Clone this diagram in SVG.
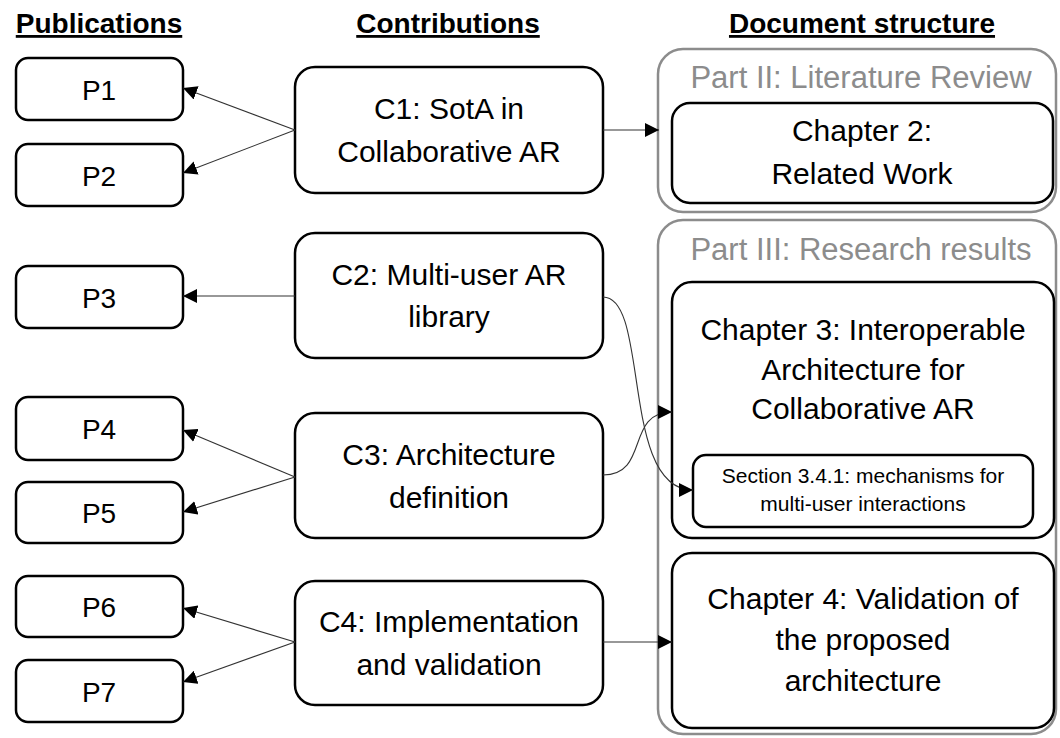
<svg xmlns="http://www.w3.org/2000/svg" width="1060" height="738" viewBox="0 0 1060 738">
<defs>
<style>
text{font-family:"Liberation Sans",Arial,sans-serif;fill:#000;text-anchor:middle}
.hdr{font-size:28px;font-weight:bold;text-decoration:underline}
.box{fill:#fff;stroke:#000;stroke-width:2.5}
.grp{fill:none;stroke:#8c8c8c;stroke-width:2.5}
.pt{font-size:28px}
.nt{font-size:30px}
.gt{font-size:31px;fill:#8c8c8c}
.st{font-size:21px}
.edge{fill:none;stroke:#333;stroke-width:1.1}
</style>
<marker id="arr" viewBox="0 0 10 10" refX="10" refY="5" markerWidth="14" markerHeight="14" markerUnits="userSpaceOnUse" orient="auto">
<path d="M0,0 L10,5 L0,10 z" fill="#000"/>
</marker>
</defs>
<rect width="1060" height="738" fill="#fff"/>
<g id="headers">
<text class="hdr" x="99" y="33">Publications</text>
<text class="hdr" x="448" y="33">Contributions</text>
<text class="hdr" x="862" y="33">Document structure</text>
</g>
<g id="part2">
<rect class="grp" x="658" y="49" width="398" height="163" rx="25"/>
<text class="gt" x="861" y="88">Part II: Literature Review</text>
</g>
<g id="part3">
<rect class="grp" x="658" y="220" width="398" height="514" rx="25"/>
<text class="gt" x="861" y="260">Part III: Research results</text>
</g>
<g id="P1"><rect class="box" x="16" y="58" width="167" height="62" rx="12"/><text class="pt" x="99" y="100">P1</text></g>
<g id="P2"><rect class="box" x="16" y="144" width="167" height="62" rx="12"/><text class="pt" x="99" y="186">P2</text></g>
<g id="P3"><rect class="box" x="16" y="266" width="167" height="62" rx="12"/><text class="pt" x="99" y="308">P3</text></g>
<g id="P4"><rect class="box" x="16" y="397" width="167" height="63" rx="12"/><text class="pt" x="99" y="439">P4</text></g>
<g id="P5"><rect class="box" x="16" y="482" width="167" height="61" rx="12"/><text class="pt" x="99" y="523">P5</text></g>
<g id="P6"><rect class="box" x="16" y="576" width="167" height="61" rx="12"/><text class="pt" x="99" y="617">P6</text></g>
<g id="P7"><rect class="box" x="16" y="660" width="167" height="62" rx="12"/><text class="pt" x="99" y="702">P7</text></g>
<g id="C1"><rect class="box" x="295" y="67" width="308" height="126" rx="20"/><text class="nt" x="449" y="119">C1: SotA in</text><text class="nt" x="449" y="162">Collaborative AR</text></g>
<g id="C2"><rect class="box" x="295" y="233" width="308" height="125" rx="20"/><text class="nt" x="449" y="285">C2: Multi-user AR</text><text class="nt" x="449" y="327">library</text></g>
<g id="C3"><rect class="box" x="295" y="413" width="308" height="125" rx="20"/><text class="nt" x="449" y="465">C3: Architecture</text><text class="nt" x="449" y="508">definition</text></g>
<g id="C4"><rect class="box" x="295" y="581" width="308" height="124" rx="20"/><text class="nt" x="449" y="632">C4: Implementation</text><text class="nt" x="449" y="675">and validation</text></g>
<g id="Ch2"><rect class="box" x="672" y="103" width="381" height="100" rx="18"/><text class="nt" x="862" y="141">Chapter 2:</text><text class="nt" x="862" y="184">Related Work</text></g>
<g id="Ch3"><rect class="box" x="672" y="282" width="382" height="256" rx="20"/><text class="nt" x="863" y="340">Chapter 3: Interoperable</text><text class="nt" x="863" y="380">Architecture for</text><text class="nt" x="863" y="419">Collaborative AR</text></g>
<g id="Sec341"><rect class="box" x="693" y="455" width="340" height="72" rx="13"/><text class="st" x="863" y="483">Section 3.4.1: mechanisms for</text><text class="st" x="863" y="511">multi-user interactions</text></g>
<g id="Ch4"><rect class="box" x="672" y="553" width="382" height="175" rx="20"/><text class="nt" x="863" y="609">Chapter 4: Validation of</text><text class="nt" x="863" y="650">the proposed</text><text class="nt" x="863" y="691">architecture</text></g>
<g id="connectors">
<path class="edge" d="M295,130 L183,88" marker-end="url(#arr)"/>
<path class="edge" d="M295,130 L183,173" marker-end="url(#arr)"/>
<path class="edge" d="M603,130 L659,130" marker-end="url(#arr)"/>
<path class="edge" d="M295,296 L183,296" marker-end="url(#arr)"/>
<path class="edge" d="M295,477 L183,430" marker-end="url(#arr)"/>
<path class="edge" d="M295,477 L183,512" marker-end="url(#arr)"/>
<path class="edge" d="M295,642 L183,608" marker-end="url(#arr)"/>
<path class="edge" d="M295,642 L183,682" marker-end="url(#arr)"/>
<path class="edge" d="M603,642 L672,642" marker-end="url(#arr)"/>
<path class="edge" d="M603,475 C650,475 625,412 672,412" marker-end="url(#arr)"/>
<path class="edge" d="M603,297 C650,297 620,490 693,490" marker-end="url(#arr)"/>
</g>
</svg>
